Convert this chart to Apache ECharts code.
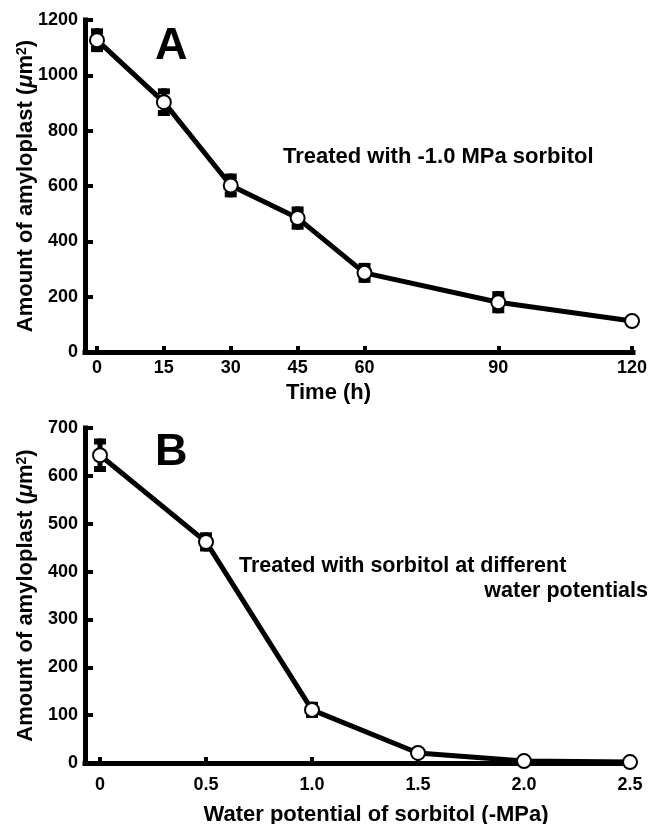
<!DOCTYPE html>
<html>
<head>
<meta charset="utf-8">
<script src="https://cdn.jsdelivr.net/npm/echarts@6/dist/echarts.min.js"></script>
<style>
  html, body { margin: 0; padding: 0; background: #fff; }
  #chart { width: 650px; height: 824px; }
</style>
</head>
<body>
<div id="chart"></div>
<script>
// ---- Panel A data ----
const timeA = [0, 15, 30, 45, 60, 90, 120];
const amountA = [1127, 903, 602, 484, 286, 180, 112];
const errA = [43, 50, 43, 42, 36, 40, 8];
const xTicksA = [0, 15, 30, 45, 60, 90, 120];
const yTicksA = [0, 200, 400, 600, 800, 1000, 1200];

// ---- Panel B data ----
const potB = [0, 0.5, 1.0, 1.5, 2.0, 2.5];
const amountB = [643, 462, 111, 21, 4, 2];
const errB = [35, 20, 17, 6, 3, 2];
const xTicksB = [0, 0.5, 1.0, 1.5, 2.0, 2.5];
const xLabelsB = ['0', '0.5', '1.0', '1.5', '2.0', '2.5'];
const yTicksB = [0, 100, 200, 300, 400, 500, 600, 700];

const FONT = "'Liberation Sans', Arial, Helvetica, sans-serif";

const chart = echarts.init(document.getElementById('chart'), null, { renderer: 'canvas' });

function errRender(params, api) {
  const x = api.value(0), y = api.value(1), e = api.value(2);
  const top = api.coord([x, y + e]);
  const bot = api.coord([x, y - e]);
  const hw = 6, ch = 6;
  return {
    type: 'group',
    children: [
      { type: 'line', shape: { x1: top[0], y1: top[1], x2: bot[0], y2: bot[1] }, style: { stroke: '#000', lineWidth: 5 } },
      { type: 'rect', shape: { x: top[0] - hw, y: top[1], width: 2 * hw, height: ch }, style: { fill: '#000' } },
      { type: 'rect', shape: { x: bot[0] - hw, y: bot[1] - ch, width: 2 * hw, height: ch }, style: { fill: '#000' } }
    ]
  };
}

const yName = 'Amount of amyloplast ({it|μ}m{sup|2})';
const yNameStyle = {
  fontFamily: FONT, fontSize: 22, fontWeight: 'bold', color: '#000',
  rich: {
    it: { fontFamily: FONT, fontSize: 22, fontWeight: 'bold', fontStyle: 'italic', color: '#000' },
    sup: { fontFamily: FONT, fontSize: 14, fontWeight: 'bold', color: '#000', verticalAlign: 'top', padding: [0, 0, 8, 0] }
  }
};

const axisLineStyle = { color: '#000', width: 5, cap: 'square' };
const labelStyle = { fontFamily: FONT, fontSize: 18, fontWeight: 'bold', color: '#000' };
const plain = function (v) { return String(v); };

const option = {
  backgroundColor: '#fff',
  animation: false,
  grid: [
    { left: 85, right: 17, top: 20, height: 332, containLabel: false, outerBoundsMode: 'none' },
    { left: 85, right: 18, top: 428, height: 335, containLabel: false, outerBoundsMode: 'none' }
  ],
  xAxis: [
    {
      type: 'value', gridIndex: 0, min: -2.69, max: 120.22,
      splitLine: { show: false },
      axisLine: { show: true, onZero: false, lineStyle: axisLineStyle },
      axisTick: { show: true, inside: true, length: 6, customValues: xTicksA, lineStyle: { color: '#000', width: 4 } },
      axisLabel: { show: true, margin: 7, customValues: xTicksA, formatter: plain, ...labelStyle },
      name: 'Time (h)', nameLocation: 'middle', nameGap: 30, nameMoveOverlap: false,
      nameTextStyle: { fontFamily: FONT, fontSize: 22, fontWeight: 'bold', color: '#000', padding: [0, 61, 0, 0] }
    },
    {
      type: 'value', gridIndex: 1, min: -0.0708, max: 2.5094,
      splitLine: { show: false },
      axisLine: { show: true, onZero: false, lineStyle: axisLineStyle },
      axisTick: { show: true, inside: true, length: 6, customValues: xTicksB, lineStyle: { color: '#000', width: 4 } },
      axisLabel: {
        show: true, margin: 13, customValues: xTicksB, ...labelStyle,
        formatter: function (v) { const i = xTicksB.findIndex(t => Math.abs(t - v) < 1e-6); return i >= 0 ? xLabelsB[i] : ''; }
      },
      name: 'Water potential of sorbitol (-MPa)', nameLocation: 'middle', nameGap: 41, nameMoveOverlap: false,
      nameTextStyle: { fontFamily: FONT, fontSize: 22, fontWeight: 'bold', color: '#000', padding: [0, 0, 0, 35] }
    }
  ],
  yAxis: [
    {
      type: 'value', gridIndex: 0, min: 0, max: 1200, interval: 200,
      splitLine: { show: false },
      axisLine: { show: true, onZero: false, lineStyle: axisLineStyle },
      axisTick: { show: true, inside: true, length: 8, customValues: yTicksA, lineStyle: { color: '#000', width: 4 } },
      axisLabel: { show: true, margin: 7, customValues: yTicksA, formatter: plain, ...labelStyle },
      name: yName, nameLocation: 'middle', nameGap: 48, nameRotate: 90, nameMoveOverlap: false,
      nameTextStyle: yNameStyle
    },
    {
      type: 'value', gridIndex: 1, min: 0, max: 700, interval: 100,
      splitLine: { show: false },
      axisLine: { show: true, onZero: false, lineStyle: axisLineStyle },
      axisTick: { show: true, inside: true, length: 8, customValues: yTicksB, lineStyle: { color: '#000', width: 4 } },
      axisLabel: { show: true, margin: 7, customValues: yTicksB, formatter: plain, ...labelStyle },
      name: yName, nameLocation: 'middle', nameGap: 48, nameRotate: 90, nameMoveOverlap: false,
      nameTextStyle: yNameStyle
    }
  ],
  graphic: [
    { type: 'text', left: 155, top: 24, style: { text: 'A', fontFamily: FONT, fontSize: 45, fontWeight: 'bold', fill: '#000' } },
    { type: 'text', left: 155, top: 430, style: { text: 'B', fontFamily: FONT, fontSize: 45, fontWeight: 'bold', fill: '#000' } },
    { type: 'text', left: 283, top: 146, style: { text: 'Treated with -1.0 MPa sorbitol', fontFamily: FONT, fontSize: 22, fontWeight: 'bold', fill: '#000' } },
    { type: 'text', left: 239, top: 555, style: { text: 'Treated with sorbitol at different', fontFamily: FONT, fontSize: 21.5, fontWeight: 'bold', fill: '#000' } },
    { type: 'text', right: 2, top: 580, style: { text: 'water potentials', fontFamily: FONT, fontSize: 21.5, fontWeight: 'bold', fill: '#000' } }
  ],
  series: [
    {
      type: 'custom', xAxisIndex: 0, yAxisIndex: 0, z: 2,
      renderItem: errRender,
      data: timeA.map((t, i) => [t, amountA[i], errA[i]])
    },
    {
      type: 'line', xAxisIndex: 0, yAxisIndex: 0, z: 3,
      data: timeA.map((t, i) => [t, amountA[i]]),
      symbol: 'circle', symbolSize: 14,
      lineStyle: { color: '#000', width: 5 },
      itemStyle: { color: '#fff', borderColor: '#000', borderWidth: 2 }
    },
    {
      type: 'custom', xAxisIndex: 1, yAxisIndex: 1, z: 2,
      renderItem: errRender,
      data: potB.map((p, i) => [p, amountB[i], errB[i]])
    },
    {
      type: 'line', xAxisIndex: 1, yAxisIndex: 1, z: 3,
      data: potB.map((p, i) => [p, amountB[i]]),
      symbol: 'circle', symbolSize: 14,
      lineStyle: { color: '#000', width: 5 },
      itemStyle: { color: '#fff', borderColor: '#000', borderWidth: 2 }
    }
  ]
};

chart.setOption(option);
</script>
</body>
</html>
